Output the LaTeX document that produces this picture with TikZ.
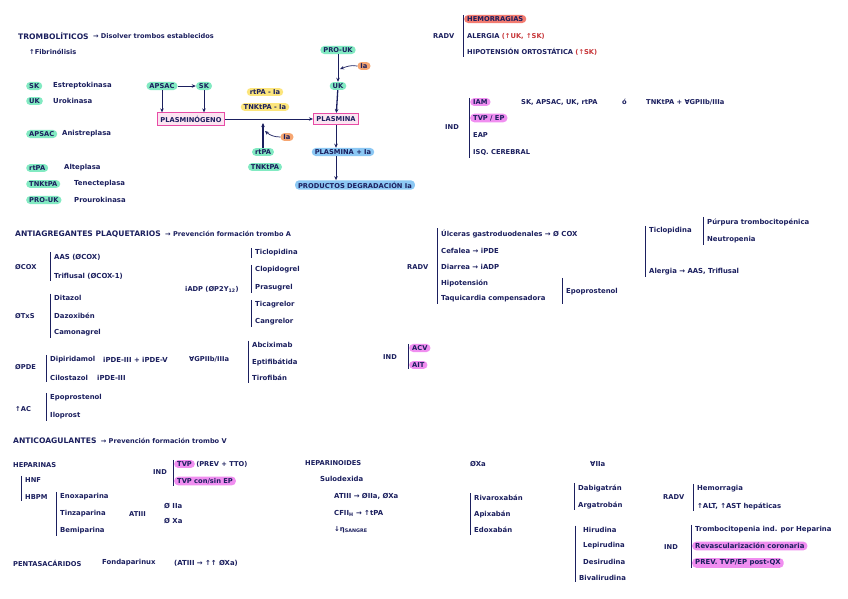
\documentclass[tikz,border=0pt]{standalone}
\usepackage{fontspec}
\setmainfont{DejaVu Sans}
\usetikzlibrary{arrows.meta,positioning,calc}
\definecolor{ink}{HTML}{1B1F5E}
\definecolor{mint}{HTML}{82EAC2}
\definecolor{lemon}{HTML}{FCE57C}
\definecolor{peach}{HTML}{F6A672}
\definecolor{orchid}{HTML}{F08EF0}
\definecolor{salmon}{HTML}{F27B70}
\definecolor{sky}{HTML}{8CC8F4}
\definecolor{rose}{HTML}{E84CA6}
\definecolor{blush}{HTML}{FCE4F1}
\definecolor{brick}{HTML}{C8373A}
\newcommand{\fnt}{\fontsize{6.9}{8}\selectfont\bfseries}
\newcommand{\fcap}{\fontsize{6.7}{7.7}\selectfont\bfseries}
\newcommand{\fhead}{\fontsize{7.6}{8.6}\selectfont\bfseries}
\newcommand{\fsub}{\fontsize{6.6}{7.6}\selectfont\bfseries}
\newcommand{\vbar}[3]{\draw[bar] ($(#2.north -| #1.west)+(-1,0)$) -- ($(#3.south -| #1.west)+(-1,0)$);}

\begin{document}
\begin{tikzpicture}[x=1pt, y=-1pt,
  txt/.style={anchor=west, inner xsep=3pt, inner ysep=1.5pt, text=ink, font=\fnt},
  uc/.style={txt, font=\fcap},
  head/.style={txt, font=\fhead},
  sub/.style={txt, font=\fsub},
  pill/.style={txt, rounded corners=4pt},
  grn/.style={pill, fill=mint, font=\fcap},
  ylw/.style={pill, fill=lemon, font=\fcap, anchor=center},
  org/.style={pill, fill=peach, font=\fcap, anchor=center},
  blu/.style={pill, fill=sky, font=\fcap, anchor=center},
  pnk/.style={pill, fill=orchid},
  redpill/.style={pill, fill=salmon, font=\fcap},
  box/.style={txt, anchor=center, font=\fcap, draw=rose, fill=blush, line width=1pt, inner ysep=3pt},
  bar/.style={draw=ink, line width=0.8pt},
  flow/.style={draw=ink, line width=0.7pt, -{Stealth[length=4pt,width=3.5pt]}},
  fat/.style={flow, line width=1.3pt}]
\useasboundingbox[fill=white] (0,0) rectangle (848,599);

% trombolíticos
\node[head] (tromb) at (15,36) {TROMBOLÍTICOS};
\node[sub, right=-2pt of tromb] (trombdef) {→ Disolver trombos establecidos};
\node[uc] (fibri) at (26,52) {↑Fibrinólisis};

\node[grn] (gsk) at (26,86) {SK};
\node[txt] (gskn) at (50,86) {Estreptokinasa};
\node[grn] (guk) at (26,101) {UK};
\node[txt] (gukn) at (50,101) {Urokinasa};
\node[grn] (gapsac) at (26,134) {APSAC};
\node[txt] (gapsacn) at (59,134) {Anistreplasa};
\node[grn] (grtpa) at (26,168) {rtPA};
\node[txt] (grtpan) at (61,168) {Alteplasa};
\node[grn] (gtnk) at (26,184) {TNKtPA};
\node[txt] (gtnkn) at (71,184) {Tenecteplasa};
\node[grn] (gprouk) at (26,200) {PRO-UK};
\node[txt] (gproukn) at (71,200) {Prourokinasa};

\node[grn, anchor=center] (apsac) at (162,86) {APSAC};
\node[grn, anchor=center] (sk) at (204,86) {SK};
\node[box] (plg) at (191,119) {PLASMINÓGENO};
\node[box] (pla) at (336,119) {PLASMINA};
\node[ylw] (rtpaia) at (265,92) {rtPA - Ia};
\node[ylw] (tnkia) at (265,107) {TNKtPA - Ia};
\node[grn, anchor=center] (rtpa) at (263,152) {rtPA};
\node[grn, anchor=center] (tnk) at (265,167) {TNKtPA};
\node[org] (ia1) at (287,137) {Ia};
\coordinate (up1) at (263,123);
\coordinate (hit1) at (265,131);
\node[grn, anchor=center] (prouk) at (338,50) {PRO-UK};
\node[grn, anchor=center] (uk) at (338,86) {UK};
\node[org] (ia2) at (364,66) {Ia};
\coordinate (hit2) at (340,69);
\node[blu] (plaia) at (343,152) {PLASMINA + Ia};
\node[blu] (prod) at (355,185) {PRODUCTOS DEGRADACIÓN Ia};

\draw[flow] (apsac) -- (sk);
\draw[flow] (apsac.south) -- (apsac.south |- plg.north);
\draw[flow] (sk.south) -- (sk.south |- plg.north);
\draw[flow] (plg) -- (pla);
\draw[fat] (rtpa.north) -- (up1);
\draw[flow] (ia1.west) to[out=180,in=-40] (hit1);
\draw[flow] (prouk) -- (uk);
\draw[flow] (ia2.west) to[out=170,in=20] (hit2);
\draw[fat] (uk) -- (pla);
\draw[flow] (pla.south) -- (pla.south |- plaia.north);
\draw[flow] (plaia.south -| pla.south) -- (prod.north -| pla.south);

\node[uc] (radv1) at (430,36) {RADV};
\node[redpill] (hem) at (464,19) {HEMORRAGIAS};
\node[uc] (alerg) at (464,36) {ALERGIA \textcolor{brick}{(↑UK, ↑SK)}};
\node[uc] (hipo) at (464,52) {HIPOTENSIÓN ORTOSTÁTICA \textcolor{brick}{(↑SK)}};
\vbar{hem}{hem}{hipo}

\node[uc] (ind1) at (442,127) {IND};
\node[pnk, font=\fcap] (iam) at (470,102) {IAM};
\node[uc] (iamd1) at (518,102) {SK, APSAC, UK, rtPA};
\node[uc] (iamo) at (619,102) {ó};
\node[uc] (iamd2) at (643,102) {TNKtPA + ∀GPIIb/IIIa};
\node[pnk, font=\fcap] (tvpep) at (470,118) {TVP / EP};
\node[uc] (eap) at (470,135) {EAP};
\node[uc] (isq) at (470,153) {ISQ. CEREBRAL};
\vbar{iam}{iam}{isq}

% antiagregantes
\node[head] (antiag) at (12,234) {ANTIAGREGANTES PLAQUETARIOS};
\node[sub, right=-2pt of antiag] (antiagdef) {→ Prevención formación trombo A};

\node[uc] (cox) at (12,267) {ØCOX};
\node[txt] (aas) at (51,257) {AAS (ØCOX)};
\node[txt] (trif) at (51,276) {Triflusal (ØCOX-1)};
\vbar{aas}{aas}{trif}
\node[uc] (txs) at (12,316) {ØTxS};
\node[txt] (dit) at (51,298) {Ditazol};
\node[txt] (daz) at (51,316) {Dazoxibén};
\node[txt] (cam) at (51,333) {Camonagrel};
\vbar{dit}{dit}{cam}
\node[uc] (pde) at (12,367) {ØPDE};
\node[txt] (dip) at (47,360) {Dipiridamol};
\node[txt] (dipm) at (100,360) {iPDE-III + iPDE-V};
\node[txt] (cil) at (47,378) {Cilostazol};
\node[txt] (cilm) at (94,378) {iPDE-III};
\vbar{dip}{dip}{cil}
\node[uc] (ac) at (12,409) {↑AC};
\node[txt] (epo) at (47,398) {Epoprostenol};
\node[txt] (ilo) at (47,416) {Iloprost};
\vbar{epo}{epo}{ilo}

\node[uc] (iadp) at (182,289) {iADP (ØP2Y\textsubscript{12})};
\node[txt] (tic) at (252,253) {Ticlopidina};
\node[txt] (clo) at (252,270) {Clopidogrel};
\node[txt] (pras) at (252,288) {Prasugrel};
\node[txt] (tica) at (252,305) {Ticagrelor};
\node[txt] (cang) at (252,322) {Cangrelor};
\vbar{tic}{tic}{tic}
\vbar{clo}{clo}{pras}
\vbar{tica}{tica}{cang}
\node[uc] (gp) at (186,359) {∀GPIIb/IIIa};
\node[txt] (abc) at (249,345) {Abciximab};
\node[txt] (ept) at (249,362) {Eptifibátida};
\node[txt] (tir) at (249,378) {Tirofibán};
\vbar{abc}{abc}{tir}

\node[uc] (radv2) at (404,267) {RADV};
\node[txt] (ulc) at (438,234) {Úlceras gastroduodenales → Ø COX};
\node[txt] (cef) at (438,251) {Cefalea → iPDE};
\node[txt] (dia) at (438,267) {Diarrea → iADP};
\node[txt] (hipot) at (438,283) {Hipotensión};
\node[txt] (taq) at (438,299) {Taquicardia compensadora};
\vbar{ulc}{ulc}{taq}
\node[txt] (epo2) at (563,292) {Epoprostenol};
\vbar{epo2}{hipot}{taq}

\node[txt] (tic2) at (646,231) {Ticlopidina};
\node[txt] (purp) at (704,222) {Púrpura trombocitopénica};
\node[txt] (neut) at (704,240) {Neutropenia};
\vbar{purp}{purp}{neut}
\node[txt] (alerg2) at (646,272) {Alergia → AAS, Triflusal};
\vbar{tic2}{tic2}{alerg2}

\node[uc] (ind2) at (380,357) {IND};
\node[pnk, font=\fcap] (acv) at (409,348) {ACV};
\node[pnk, font=\fcap] (ait) at (409,365) {AIT};
\vbar{acv}{acv}{ait}

% anticoagulantes
\node[head] (anticoag) at (10,441) {ANTICOAGULANTES};
\node[sub, right=-2pt of anticoag] (anticoagdef) {→ Prevención formación trombo V};

\node[uc] (hep) at (10,465) {HEPARINAS};
\node[uc] (hnf) at (22,480) {HNF};
\node[uc] (hbpm) at (22,497) {HBPM};
\vbar{hnf}{hnf}{hbpm}
\node[txt] (enox) at (57,497) {Enoxaparina};
\node[txt] (tinz) at (57,514) {Tinzaparina};
\node[txt] (bemi) at (57,531) {Bemiparina};
\vbar{enox}{enox}{bemi}
\node[uc] (atiii) at (126,514) {ATIII};
\node[txt] (oiia) at (161,506) {Ø IIa};
\node[txt] (oxa) at (161,521) {Ø Xa};

\node[uc] (ind3) at (150,472) {IND};
\node[pnk, font=\fcap] (tvp2) at (174,464) {TVP};
\node[uc, right=-2pt of tvp2] (tvp2d) {(PREV + TTO)};
\node[pnk, font=\fcap] (tvp3) at (174,481) {TVP con/sin EP};
\vbar{tvp2}{tvp2}{tvp3}

\node[uc] (penta) at (10,563) {PENTASACÁRIDOS};
\node[txt] (fonda) at (99,563) {Fondaparinux};
\node[txt] (fondam) at (171,563) {(ATIII → ↑↑ ØXa)};

\node[uc] (hpd) at (302,463) {HEPARINOIDES};
\node[txt] (sulo) at (317,479) {Sulodexida};
\node[txt] (sulo1) at (331,496) {ATIII → ØIIa, ØXa};
\node[txt] (sulo2) at (331,513) {CFII\textsubscript{H} → ↑tPA};
\node[txt] (sulo3) at (331,530) {↓η\textsubscript{SANGRE}};

\node[txt] (oxa2) at (467,464) {ØXa};
\node[txt] (riv) at (471,498) {Rivaroxabán};
\node[txt] (api) at (471,514) {Apixabán};
\node[txt] (edo) at (471,530) {Edoxabán};
\vbar{riv}{riv}{edo}

\node[txt] (aiia) at (587,464) {∀IIa};
\node[txt] (dabi) at (575,488) {Dabigatrán};
\node[txt] (arga) at (575,505) {Argatrobán};
\vbar{dabi}{dabi}{arga}
\node[txt] (hiru) at (580,530) {Hirudina};
\node[txt] (lepi) at (580,546) {Lepirudina};
\node[txt] (desi) at (580,562) {Desirudina};
\node[txt] (biva) at (576,578) {Bivalirudina};
\vbar{biva}{hiru}{biva}

\node[uc] (radv3) at (660,497) {RADV};
\node[txt] (hemo) at (694,489) {Hemorragia};
\node[txt] (alt) at (694,506) {↑ALT, ↑AST hepáticas};
\vbar{hemo}{hemo}{alt}
\node[uc] (ind4) at (661,547) {IND};
\node[txt] (tromb2) at (692,530) {Trombocitopenia ind. por Heparina};
\node[pnk] (revasc) at (692,546) {Revascularización coronaria};
\node[pnk] (prev) at (692,563) {PREV. TVP/EP post-QX};
\vbar{tromb2}{tromb2}{prev}
\end{tikzpicture}
\end{document}
